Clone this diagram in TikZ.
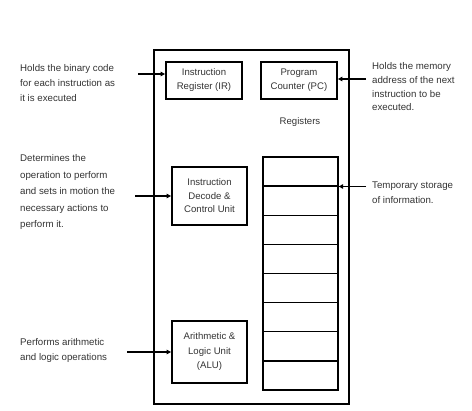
\documentclass[tikz,border=0pt]{standalone}
\usepackage{fontspec}
\setmainfont{Liberation Sans}
\usetikzlibrary{arrows.meta}
\definecolor{txt}{HTML}{333333}
\begin{document}
\begin{tikzpicture}[x=1pt,y=-1pt,
  unit/.style={draw=black, line width=1.8pt, align=center, inner sep=0pt, text=txt},
  cell/.style={draw=black, line width=1.3pt, minimum width=75pt, minimum height=29.1pt, inner sep=0pt},
  lbl/.style={anchor=north west, align=left, inner sep=0pt, text=txt},
  arr/.style={-{Triangle[length=4.5pt,width=4.5pt]}, line width=1.8pt}]
\useasboundingbox (0,0) rectangle (472,411);
% outer box
\node[draw=black, line width=1.8pt, minimum width=195pt, minimum height=354pt, inner sep=0pt] (cpu) at (251.5,227) {};
% units
\node[unit, minimum width=76pt, minimum height=37pt, font=\fontsize{9.6}{14}\selectfont] (ir) at (204,80.5) {Instruction\\Register (IR)};
\node[unit, minimum width=76pt, minimum height=37pt, font=\fontsize{9.6}{14}\selectfont] (pc) at (299,80.5) {Program\\Counter (PC)};
\node[unit, minimum width=75pt, minimum height=58pt, font=\fontsize{9.6}{13.5}\selectfont] (idcu) at (209.5,196) {Instruction\\Decode \&\\Control Unit};
\node[unit, minimum width=75pt, minimum height=62pt, font=\fontsize{9.6}{14.5}\selectfont] (alu) at (209.5,352) {Arithmetic \&\\Logic Unit\\(ALU)};
\node[inner sep=0pt, text=txt, font=\fontsize{9.6}{12}\selectfont] (reglbl) at (300,122) {Registers};
% register cells
\foreach \i in {1,...,8} {
  \node[cell] (r\i) at (300.5,{157+29.125*(\i-0.5)}) {};
}
% labels
\node[lbl, font=\fontsize{9.7}{15}\selectfont] (t1) at (20,64.5) {Holds the binary code\\for each instruction as\\it is executed};
\node[lbl, font=\fontsize{9.7}{16.5}\selectfont] (t2) at (20,154.5) {Determines the\\operation to perform\\and sets in motion the\\necessary actions to\\perform it.};
\node[lbl, font=\fontsize{9.7}{15}\selectfont] (t3) at (20,338.5) {Performs arithmetic\\and logic operations};
\node[lbl, font=\fontsize{9.7}{13.7}\selectfont] (t4) at (372,62.5) {Holds the memory\\address of the next\\instruction to be\\executed.};
\node[lbl, font=\fontsize{9.7}{15}\selectfont] (t5) at (372,181.5) {Temporary storage\\of information.};
% arrow starts
\coordinate (a1) at (138,74);
\coordinate (a2) at (366,79);
\coordinate (a3) at (366,186.5);
\coordinate (a4) at (135,196);
\coordinate (a5) at (127,352);
\draw[arr] (a1) -- (a1 -| ir.west);
\draw[arr] (a2) -- (a2 -| pc.east);
\draw[arr] (a3) -- (a3 -| r1.east);
\draw[arr] (a4) -- (a4 -| idcu.west);
\draw[arr] (a5) -- (a5 -| alu.west);
\end{tikzpicture}
\end{document}
